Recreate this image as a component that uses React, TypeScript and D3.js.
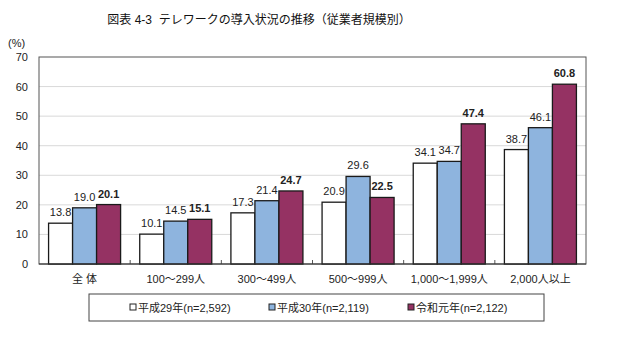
import React, { useEffect, useRef } from "react";
import * as d3 from "d3";

const categories = ["全 体", "100～299人", "300～499人", "500～999人", "1,000～1,999人", "2,000人以上"];
const seriesNames = ["平成29年(n=2,592)", "平成30年(n=2,119)", "令和元年(n=2,122)"];
const h29 = [13.8, 10.1, 17.3, 20.9, 34.1, 38.7];
const h30 = [19.0, 14.5, 21.4, 29.6, 34.7, 46.1];
const r1 = [20.1, 15.1, 24.7, 22.5, 47.4, 60.8];
const yTicks = [0, 10, 20, 30, 40, 50, 60, 70];

const colors = ["#ffffff", "#8eb4de", "#953263"];
const FONT = "'Liberation Sans', Arial, 'Noto Sans CJK JP', sans-serif";

const App: React.FC = () => {
  const svgRef = useRef<SVGSVGElement | null>(null);

  useEffect(() => {
    if (!svgRef.current) return;
    const svg = d3.select(svgRef.current);
    svg.selectAll("*").remove();

    const width = 619;
    const height = 353;
    const left = 39, right = 586, top = 57, bottom = 264;
    const series = [h29, h30, r1];

    const x0 = d3.scaleBand<string>().domain(categories).range([left, right])
      .paddingInner(0.21).paddingOuter(0.105);
    const x1 = d3.scaleBand<number>().domain([0, 1, 2]).range([0, x0.bandwidth()]);
    const y = d3.scaleLinear().domain([0, 70]).range([bottom, top]);

    svg.attr("width", width).attr("height", height);

    // title
    svg.append("text")
      .attr("x", 259).attr("y", 24)
      .attr("text-anchor", "middle")
      .attr("font-family", FONT)
      .attr("font-size", 12)
      .attr("fill", "#111")
      .style("white-space", "pre")
      .text("図表 4-3  テレワークの導入状況の推移（従業者規模別）");

    svg.append("text")
      .attr("x", 8).attr("y", 47)
      .attr("font-family", FONT).attr("font-size", 11)
      .attr("fill", "#222")
      .text("(%)");

    // gridlines
    svg.append("g").selectAll("line")
      .data(yTicks.filter(t => t > 0 && t < 70))
      .enter().append("line")
      .attr("x1", left).attr("x2", right)
      .attr("y1", d => y(d)).attr("y2", d => y(d))
      .attr("stroke", "#d9d9d9").attr("stroke-width", 1);

    // y tick labels
    svg.append("g").selectAll("text")
      .data(yTicks).enter().append("text")
      .attr("x", 28).attr("y", d => y(d) + 4)
      .attr("text-anchor", "end")
      .attr("font-family", FONT).attr("font-size", 11)
      .attr("fill", "#222")
      .text(d => d);

    // frame
    svg.append("rect")
      .attr("x", left).attr("y", top)
      .attr("width", right - left).attr("height", bottom - top)
      .attr("fill", "none").attr("stroke", "#555").attr("stroke-width", 1);

    // group separators on x axis
    svg.append("g").selectAll("line")
      .data(categories.slice(1)).enter().append("line")
      .attr("x1", d => (x0(d) as number) - x0.step() * 0.105)
      .attr("x2", d => (x0(d) as number) - x0.step() * 0.105)
      .attr("y1", bottom).attr("y2", bottom - 4)
      .attr("stroke", "#555");

    // bars
    series.forEach((vals, si) => {
      const g = svg.append("g");
      g.selectAll("rect").data(vals).enter().append("rect")
        .attr("x", (_, i) => (x0(categories[i]) as number) + (x1(si) as number))
        .attr("y", d => y(d))
        .attr("width", x1.bandwidth())
        .attr("height", d => bottom - y(d))
        .attr("fill", colors[si])
        .attr("stroke", "#1a1a1a").attr("stroke-width", 1.3);

      g.selectAll("text").data(vals).enter().append("text")
        .attr("x", (_, i) => (x0(categories[i]) as number) + (x1(si) as number) + x1.bandwidth() / 2)
        .attr("y", d => y(d) - 7)
        .attr("text-anchor", "middle")
        .attr("font-family", FONT).attr("font-size", 11)
        .attr("font-weight", si === 2 ? "bold" : "normal")
        .attr("fill", "#222")
        .text(d => d.toFixed(1));
    });

    // bottom axis line
    svg.append("line")
      .attr("x1", left).attr("x2", right)
      .attr("y1", bottom).attr("y2", bottom)
      .attr("stroke", "#333").attr("stroke-width", 1.2);

    // category labels
    svg.append("g").selectAll("text")
      .data(categories).enter().append("text")
      .attr("x", d => (x0(d) as number) + x0.bandwidth() / 2)
      .attr("y", 283)
      .attr("text-anchor", "middle")
      .attr("font-family", FONT).attr("font-size", 11)
      .attr("fill", "#222")
      .style("white-space", "pre")
      .text(d => d);

    // legend
    svg.append("rect")
      .attr("x", 89).attr("y", 294)
      .attr("width", 455).attr("height", 27)
      .attr("fill", "#fff").attr("stroke", "#444").attr("stroke-width", 1);

    const legendX = [130, 269, 408];
    seriesNames.forEach((name, i) => {
      svg.append("rect")
        .attr("x", legendX[i]).attr("y", 304)
        .attr("width", 6).attr("height", 6)
        .attr("fill", colors[i]).attr("stroke", "#222").attr("stroke-width", 1);
      svg.append("text")
        .attr("x", legendX[i] + 8).attr("y", 312)
        .attr("font-family", FONT).attr("font-size", 11)
        .attr("fill", "#222")
        .text(name);
    });
  }, []);

  return <svg ref={svgRef} style={{ position: "absolute", left: 0, top: 0, background: "#fff" }}></svg>;
};

export default App;
